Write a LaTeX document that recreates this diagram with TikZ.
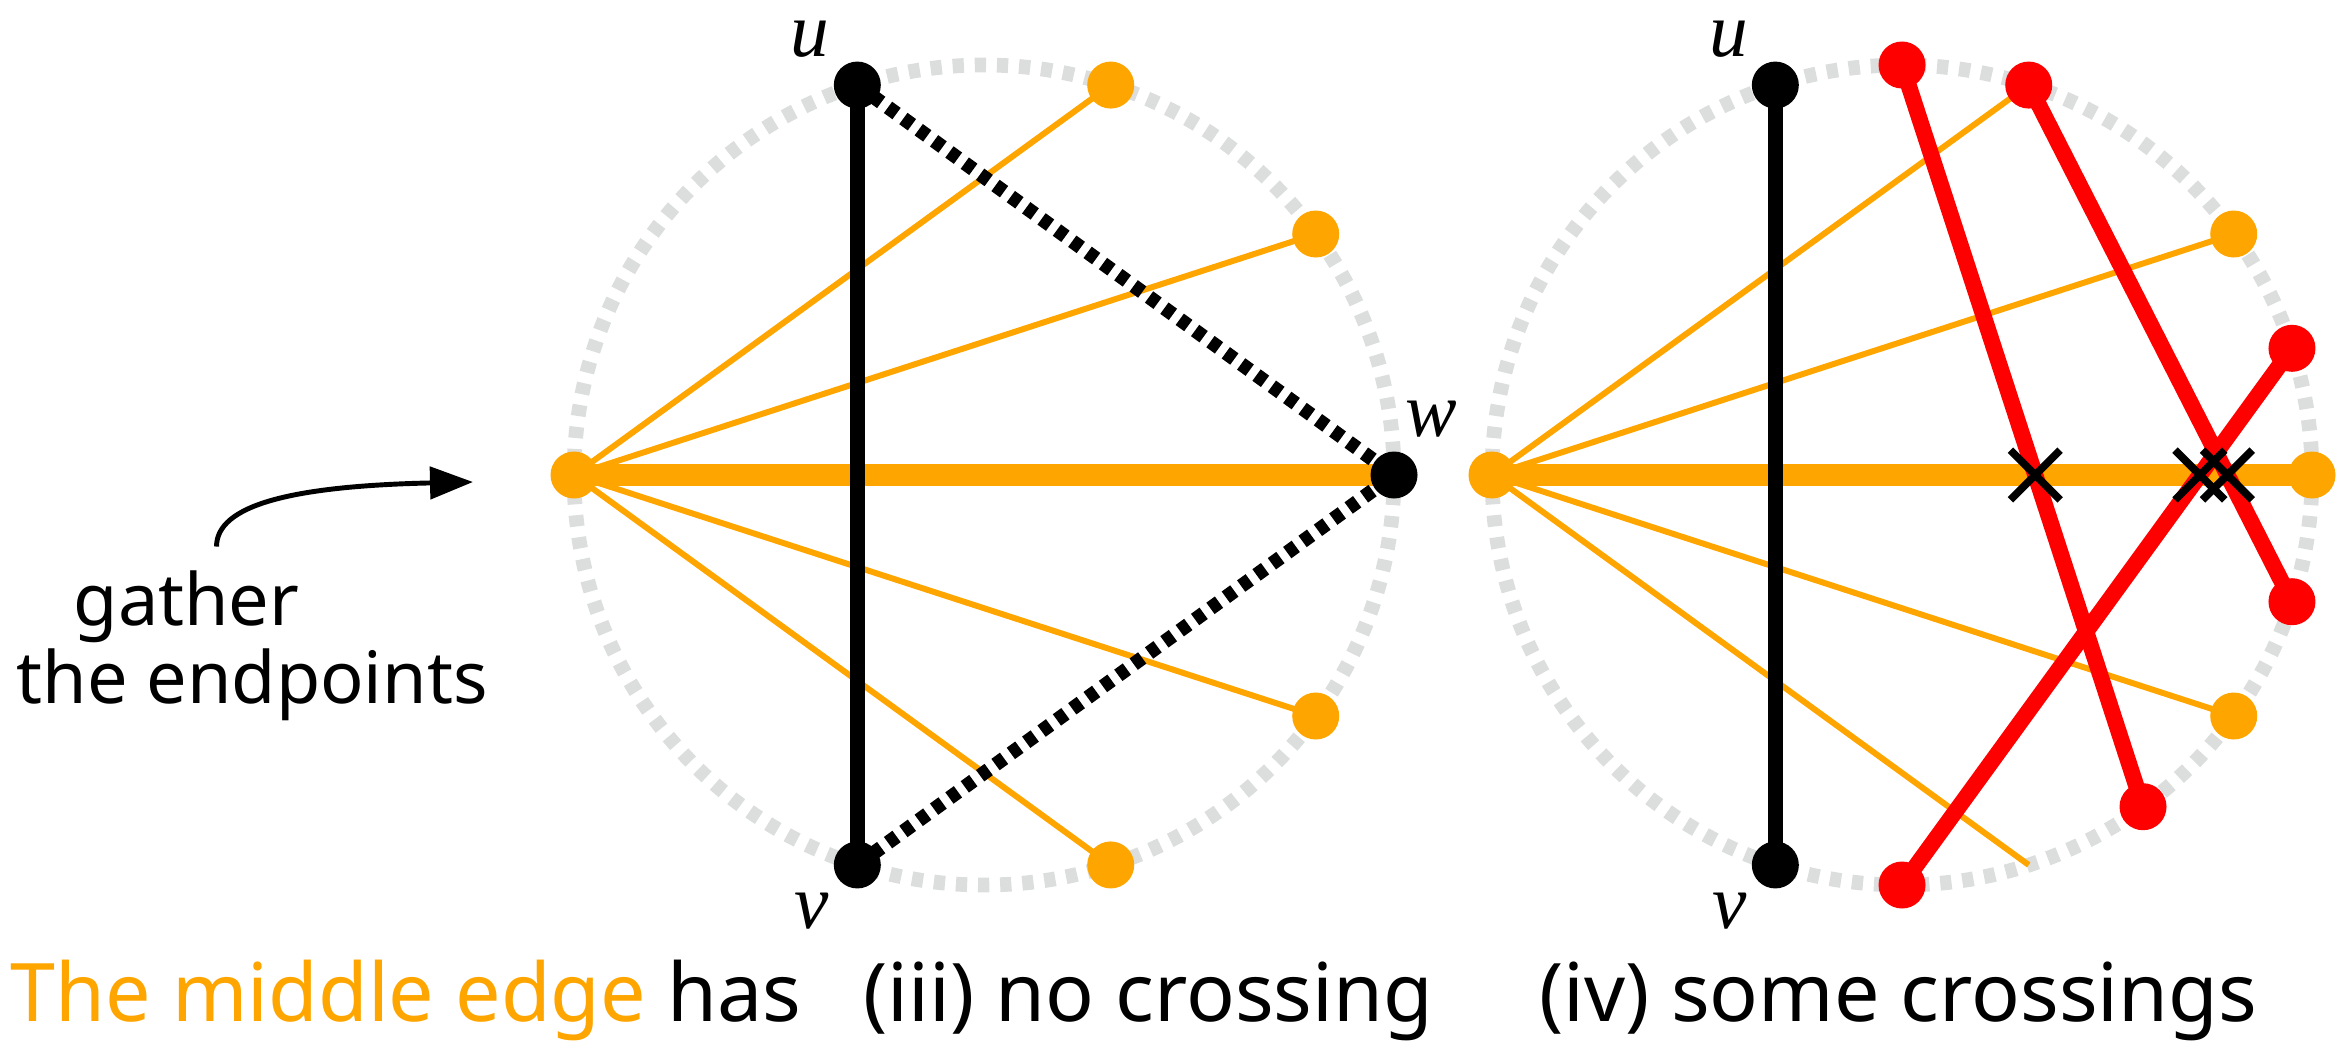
\documentclass[tikz,border=0pt]{standalone}
\usepackage{fontspec}
\setmainfont{Noto Sans}
\newfontfamily\labelfont{Liberation Serif}
\usetikzlibrary{arrows.meta,shapes.misc,positioning}

\definecolor{midorange}{HTML}{FFA500}
\definecolor{crossred}{HTML}{FF0000}
\definecolor{rimgray}{HTML}{DCDEDE}

\tikzset{
	rim/.style={draw=rimgray, line width=4.2pt, dash pattern=on 3.2pt off 3.1pt},
	vdot/.style={circle, fill=#1, inner sep=0pt, minimum size=0.47cm},
	thinedge/.style={midorange, line width=1.7pt},
	middleedge/.style={midorange, line width=6.3pt},
	uvedge/.style={black, line width=4.4pt},
	dottededge/.style={black, line width=4pt, dash pattern=on 3pt off 2.4pt},
	rededge/.style={crossred, line width=4.6pt},
	crossmark/.style={cross out, draw=black, line width=2.2pt, minimum size=0.42cm, inner sep=0pt},
	vname/.style={font=\fontsize{22}{26}\selectfont\labelfont\itshape, inner sep=0pt},
	caption/.style={font=\fontsize{23}{28}\selectfont, anchor=base west, inner sep=0pt},
	note/.style={font=\fontsize{20.5}{25}\selectfont, anchor=base west, inner sep=0pt}
}

\begin{document}
\begin{tikzpicture}
	\useasboundingbox (0,0) rectangle (23.51,10.41);

	% left note and its arrow
	\node[note] (gather) at (0.73,4.16) {gather};
	\node[note] (endpts) at (0.16,3.38) {the endpoints};
	\coordinate (gstart) at ([shift={(0.30,0.23)}]gather.north);
	\coordinate (gtip) at (4.73,5.59);
	\draw[-{Triangle[length=0.43cm,width=0.32cm]}, line width=1.4pt] (gstart) .. controls +(0,0.41) and +(-1.83,-0.04) .. (gtip);

	% (iii) no crossing
	\begin{scope}[shift={(9.84,5.66)}]
		\draw[rim] (0,0) circle (4.1);
		\foreach \a/\n in {180/l3, 108/u3, 72/a3, 36/b3, 0/w3, -36/c3, -72/d3, -108/v3}
			\coordinate (\n) at (\a:4.1);
		\foreach \n in {a3, b3, c3, d3}
			\draw[thinedge] (l3) -- (\n);
		\draw[middleedge] (l3) -- (w3);
		\draw[uvedge] (u3) -- (v3);
		\draw[dottededge] (u3) -- (w3);
		\draw[dottededge] (v3) -- (w3);
		\foreach \n/\c in {l3/midorange, a3/midorange, b3/midorange, c3/midorange, d3/midorange, u3/black, v3/black, w3/black}
			\node[vdot=\c] (dot\n) at (\n) {};
		\node[vname] (nu3) at ([shift={(-0.47,0.46)}]u3) {u};
		\node[vname] (nv3) at ([shift={(-0.46,-0.46)}]v3) {v};
		\node[vname] (nw3) at ([shift={(0.37,0.56)}]w3) {w};
	\end{scope}

	% (iv) some crossings
	\begin{scope}[shift={(19.02,5.66)}]
		\draw[rim] (0,0) circle (4.1);
		\foreach \a/\n in {180/l4, 108/u4, 90/e4, 72/a4, 36/b4, 18/f4, 0/r4, -18/g4, -36/c4, -54/h4, -72/d4, -90/k4, -108/v4}
			\coordinate (\n) at (\a:4.1);
		\foreach \n in {a4, b4, c4, d4}
			\draw[thinedge] (l4) -- (\n);
		\draw[middleedge] (l4) -- (r4);
		\draw[uvedge] (u4) -- (v4);
		\draw[rededge] (e4) -- (h4);
		\draw[rededge] (a4) -- (g4);
		\draw[rededge] (f4) -- (k4);
		\foreach \n/\c in {l4/midorange, b4/midorange, r4/midorange, c4/midorange, u4/black, v4/black, e4/crossred, a4/crossred, f4/crossred, g4/crossred, h4/crossred, k4/crossred}
			\node[vdot=\c] (dot\n) at (\n) {};
		\node[crossmark] (x1) at (intersection of l4--r4 and e4--h4) {};
		\node[crossmark] (x2) at (intersection of l4--r4 and f4--k4) {};
		\node[crossmark] (x3) at (intersection of l4--r4 and a4--g4) {};
		\node[vname] (nu4) at ([shift={(-0.47,0.46)}]u4) {u};
		\node[vname] (nv4) at ([shift={(-0.46,-0.46)}]v4) {v};
	\end{scope}

	% captions
	\node[caption] (capmid) at (0.10,0.2) {\textcolor{midorange}{The middle edge} has};
	\node[caption] (capiii) at (8.63,0.2) {(iii) no crossing};
	\node[caption] (capiv) at (15.39,0.2) {(iv) some crossings};
\end{tikzpicture}
\end{document}
